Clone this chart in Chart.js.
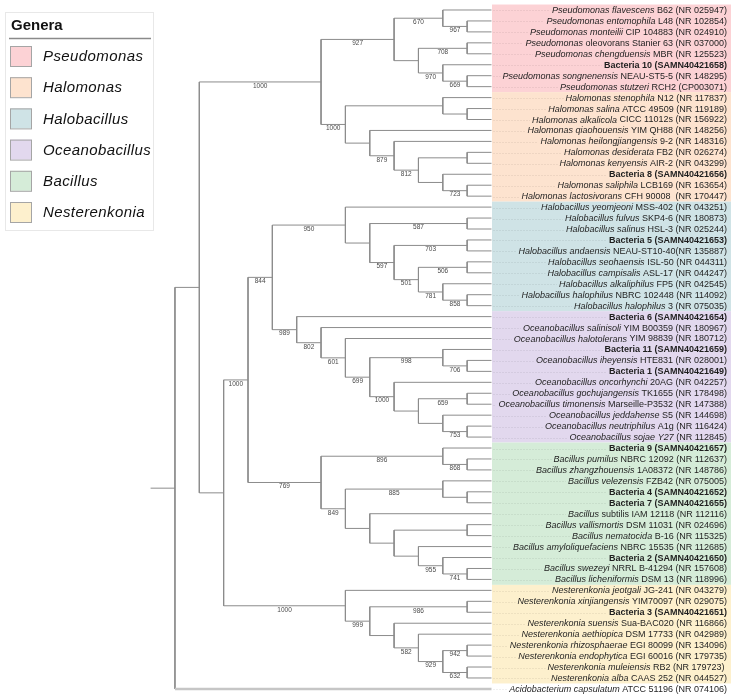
<!DOCTYPE html>
<html>
<head>
<meta charset="utf-8">
<title>Phylogenetic tree</title>
<script src="https://cdn.jsdelivr.net/npm/chart.js@4"></script>
<style>
  html, body { margin: 0; padding: 0; background: #fff; }
  #wrap { width: 733px; height: 699px; }
</style>
</head>
<body>
<div id="wrap"><canvas id="tree" width="733" height="699"></canvas></div>
<script>
// Tree topology per clade: numbers inside are leaf rows, number after ")" is bootstrap support
const pseudomonasClade = "((0,(1,2)967)670,((3,4)708,(5,(6,7)669)970))927";
const halomonasClade = "((8,(9,10)),(11,(12,((13,14),(15,(16,17)723))812)879))1000";
const halobacillusClade = "(18,((19,20)587,((21,22)703,((23,24)506,(25,(26,27)858)781)501)597))950";
const oceanobacillusClade = "(28,(29,(30,((31,(32,33)706)998,(34,((35,36)659,(37,(38,39)753)))1000)699)601)802)989";
const bacillusClade = "((40,(41,42)868)896,((43,(44,45))885,(46,((47,48),(49,(50,(51,52)741)955))))849)769";
const nesterenkoniaClade = "(53,((54,55)986,(56,(57,((58,59)942,(60,61)632)929)582))999)1000";

const newick =
  "(((" + pseudomonasClade + "," + halomonasClade + ")1000," +
  "(((" + halobacillusClade + "," + oceanobacillusClade + ")844," + bacillusClade + ")1000," +
  nesterenkoniaClade + ")),62)";

// Leaf labels (italic part, then plain part); empty italic part = own isolate, in bold
const leafItalic = [
  "Pseudomonas flavescens", "Pseudomonas entomophila", "Pseudomonas monteilii", "Pseudomonas",
  "Pseudomonas chengduensis", "", "Pseudomonas songnenensis", "Pseudomonas stutzeri",
  "Halomonas stenophila", "Halomonas salina", "Halomonas alkalicola", "Halomonas qiaohouensis",
  "Halomonas heilongjiangensis", "Halomonas desiderata", "Halomonas kenyensis", "",
  "Halomonas saliphila", "Halomonas lactosivorans",
  "Halobacillus yeomjeoni", "Halobacillus fulvus", "Halobacillus salinus", "",
  "Halobacillus andaensis", "Halobacillus seohaensis", "Halobacillus campisalis",
  "Halobacillus alkaliphilus", "Halobacillus halophilus", "Halobacillus halophilus",
  "", "Oceanobacillus salinisoli", "Oceanobacillus halotolerans", "", "Oceanobacillus iheyensis", "",
  "Oceanobacillus oncorhynchi", "Oceanobacillus gochujangensis", "Oceanobacillus timonensis",
  "Oceanobacillus jeddahense", "Oceanobacillus neutriphilus", "Oceanobacillus sojae Y27",
  "", "Bacillus pumilus", "Bacillus zhangzhouensis", "Bacillus velezensis", "", "",
  "Bacillus", "Bacillus vallismortis", "Bacillus nematocida", "Bacillus amyloliquefaciens", "",
  "Bacillus swezeyi", "Bacillus licheniformis",
  "Nesterenkonia jeotgali", "Nesterenkonia xinjiangensis", "", "Nesterenkonia suensis",
  "Nesterenkonia aethiopica", "Nesterenkonia rhizosphaerae", "Nesterenkonia endophytica",
  "Nesterenkonia muleiensis", "Nesterenkonia alba",
  "Acidobacterium capsulatum"
];
const leafRest = [
  " B62 (NR 025947)", " L48 (NR 102854)", " CIP 104883 (NR 024910)", " oleovorans Stanier 63 (NR 037000)",
  " MBR (NR 125523)", "Bacteria 10 (SAMN40421658)", " NEAU-ST5-5 (NR 148295)", " RCH2 (CP003071)",
  " N12 (NR 117837)", " ATCC 49509 (NR 119189)", " CICC 11012s (NR 156922)", " YIM QH88 (NR 148256)",
  " 9-2 (NR 148316)", " FB2 (NR 026274)", " AIR-2 (NR 043299)", "Bacteria 8 (SAMN40421656)",
  " LCB169 (NR 163654)", " CFH 90008  (NR 170447)",
  " MSS-402 (NR 043251)", " SKP4-6 (NR 180873)", " HSL-3 (NR 025244)", "Bacteria 5 (SAMN40421653)",
  " NEAU-ST10-40(NR 135887)", " ISL-50 (NR 044311)", " ASL-17 (NR 044247)",
  " FP5 (NR 042545)", " NBRC 102448 (NR 114092)", " 3 (NR 075035)",
  "Bacteria 6 (SAMN40421654)", " YIM B00359 (NR 180967)", " YIM 98839 (NR 180712)", "Bacteria 11 (SAMN40421659)",
  " HTE831 (NR 028001)", "Bacteria 1 (SAMN40421649)",
  " 20AG (NR 042257)", " TK1655 (NR 178498)", " Marseille-P3532 (NR 147388)",
  " S5 (NR 144698)", " A1g (NR 116424)", " (NR 112845)",
  "Bacteria 9 (SAMN40421657)", " NBRC 12092 (NR 112637)", " 1A08372 (NR 148786)", " FZB42 (NR 075005)",
  "Bacteria 4 (SAMN40421652)", "Bacteria 7 (SAMN40421655)",
  " subtilis IAM 12118 (NR 112116)", " DSM 11031 (NR 024696)", " B-16 (NR 115325)", " NBRC 15535 (NR 112685)",
  "Bacteria 2 (SAMN40421650)", " NRRL B-41294 (NR 157608)", " DSM 13 (NR 118996)",
  " JG-241 (NR 043279)", " YIM70097 (NR 029075)", "Bacteria 3 (SAMN40421651)", " Sua-BAC020 (NR 116866)",
  " DSM 17733 (NR 042989)", " EGI 80099 (NR 134096)", " EGI 60016 (NR 179735)",
  " RB2 (NR 179723) ", " CAAS 252 (NR 044527)",
  " ATCC 51196 (NR 074106)"
];

// Genera: name, first and last leaf row, colour
const genera = ["Pseudomonas", "Halomonas", "Halobacillus", "Oceanobacillus", "Bacillus", "Nesterenkonia"];
const generaRows = [[0, 7], [8, 17], [18, 27], [28, 39], [40, 52], [53, 61]];
const generaColors = ["#fcd2d5", "#fde3cf", "#cfe3e6", "#e2d8ee", "#d5ecd8", "#fdf0cd"];

// Parse the newick string
function parseNewick(s) {
  let i = 0;
  function readNum() {
    let n = '';
    while (i < s.length && /\d/.test(s[i])) n += s[i++];
    return n;
  }
  function node() {
    if (s[i] === '(') {
      i++;
      const kids = [node()];
      while (s[i] === ',') { i++; kids.push(node()); }
      i++; // closing paren
      const n = readNum();
      return { kids, support: n ? +n : null };
    }
    return { leaf: +readNum() };
  }
  return node();
}

const root = parseNewick(newick);

// Cladogram layout: leaves aligned, node level from its height
function height(n) {
  n.h = n.kids ? 1 + Math.max(...n.kids.map(height)) : 0;
  return n.h;
}
const maxH = height(root);
const tipLevel = maxH + 1;

function place(n) {
  n.lvl = tipLevel - n.h;
  if (n.kids) {
    n.kids.forEach(place);
    n.y = (n.kids[0].y + n.kids[n.kids.length - 1].y) / 2;
  } else {
    n.y = n.leaf;
  }
}
place(root);

const treeLines = [];
const outgroupLines = [];
const supports = [];
const gap = (arr) => arr.push({ x: 0, y: null });

treeLines.push({ x: 0, y: root.y }, { x: root.lvl, y: root.y });
gap(treeLines);

function walk(n) {
  if (!n.kids) return;
  const first = n.kids[0], last = n.kids[n.kids.length - 1];
  treeLines.push({ x: n.lvl, y: first.y }, { x: n.lvl, y: last.y });
  gap(treeLines);
  n.kids.forEach(k => {
    const target = (n === root && !k.kids) ? outgroupLines : treeLines;
    target.push({ x: n.lvl, y: k.y }, { x: k.lvl, y: k.y });
    gap(target);
    if (k.support) supports.push({ x: (n.lvl + k.lvl) / 2, y: k.y, v: k.support });
    walk(k);
  });
}
walk(root);

const FONT = "'Liberation Sans', Arial, sans-serif";

const treePlugin = {
  id: 'treePlugin',
  beforeDatasetsDraw(chart) {
    const { ctx, chartArea } = chart;
    const xs = chart.scales.x, ys = chart.scales.y;
    const left = xs.getPixelForValue(tipLevel) + 0.5;
    ctx.save();
    generaRows.forEach((r, i) => {
      const top = ys.getPixelForValue(r[0] - 0.5);
      const bottom = ys.getPixelForValue(r[1] + 0.5);
      ctx.fillStyle = generaColors[i];
      ctx.fillRect(left, top, chartArea.right - 2 - left, bottom - top);
    });
    ctx.restore();
  },
  afterDatasetsDraw(chart) {
    const { ctx, chartArea } = chart;
    const xs = chart.scales.x, ys = chart.scales.y;
    const tipX = xs.getPixelForValue(tipLevel);
    const rightX = chartArea.right - 6;
    ctx.save();

    // leaf labels
    ctx.textBaseline = 'middle';
    ctx.textAlign = 'left';
    leafRest.forEach((rest, i) => {
      const py = ys.getPixelForValue(i) + 0.5;
      const it = leafItalic[i];
      let start;
      ctx.fillStyle = '#1e1e1e';
      if (!it) {
        ctx.font = 'bold 9px ' + FONT;
        const w = ctx.measureText(rest).width;
        start = rightX - w;
        ctx.fillText(rest, start, py);
      } else {
        ctx.font = 'italic 9px ' + FONT;
        const wi = ctx.measureText(it).width;
        ctx.font = '9px ' + FONT;
        const wr = ctx.measureText(rest).width;
        start = rightX - wi - wr;
        ctx.font = 'italic 9px ' + FONT;
        ctx.fillText(it, start, py);
        ctx.font = '9px ' + FONT;
        ctx.fillText(rest, start + wi, py);
      }
      // faint dotted leader
      ctx.strokeStyle = 'rgba(0,0,0,0.12)';
      ctx.lineWidth = 1;
      ctx.setLineDash([1, 2]);
      ctx.beginPath();
      ctx.moveTo(tipX + 2, Math.round(py) + 0.5);
      ctx.lineTo(start - 2, Math.round(py) + 0.5);
      ctx.stroke();
      ctx.setLineDash([]);
    });

    // bootstrap values
    ctx.font = '6.5px ' + FONT;
    ctx.fillStyle = '#4a4a4a';
    ctx.textAlign = 'center';
    supports.forEach(s => {
      ctx.fillText(String(s.v), xs.getPixelForValue(s.x), ys.getPixelForValue(s.y) + 4);
    });

    // legend box
    ctx.fillStyle = '#fff';
    ctx.fillRect(5, 12, 148, 218);
    ctx.strokeStyle = '#e8e8e8';
    ctx.lineWidth = 1;
    ctx.strokeRect(5.5, 12.5, 148, 218);
    ctx.textAlign = 'left';
    ctx.fillStyle = '#111';
    ctx.font = 'bold 15px ' + FONT;
    ctx.fillText('Genera', 11, 26);
    ctx.strokeStyle = '#8a8a8a';
    ctx.lineWidth = 1.5;
    ctx.beginPath();
    ctx.moveTo(9, 38.5);
    ctx.lineTo(151, 38.5);
    ctx.stroke();
    ctx.font = 'italic 15px ' + FONT;
    ctx.letterSpacing = '0.4px';
    genera.forEach((g, i) => {
      const cy = 56 + i * 31.2;
      ctx.fillStyle = generaColors[i];
      ctx.fillRect(10, cy - 10, 22, 20);
      ctx.strokeStyle = '#a5a5a5';
      ctx.lineWidth = 1;
      ctx.strokeRect(10.5, cy - 9.5, 21, 20);
      ctx.fillStyle = '#111';
      ctx.fillText(g, 43, cy + 1);
    });
    ctx.restore();
  }
};

new Chart(document.getElementById('tree'), {
  type: 'scatter',
  data: {
    datasets: [
      {
        data: outgroupLines,
        showLine: true,
        borderColor: '#c6c6c6',
        borderWidth: 2.5,
        pointRadius: 0,
        spanGaps: false
      },
      {
        data: treeLines,
        showLine: true,
        borderColor: '#8c8c8c',
        borderWidth: 1,
        pointRadius: 0,
        spanGaps: false
      }
    ]
  },
  options: {
    responsive: false,
    animation: false,
    events: [],
    layout: { padding: 0 },
    plugins: { legend: { display: false }, tooltip: { enabled: false } },
    scales: {
      x: { type: 'linear', display: false, min: -6.185, max: 23.918 },
      y: { type: 'linear', display: false, min: -0.913, max: 62.92, reverse: true }
    }
  },
  plugins: [treePlugin]
});
</script>
</body>
</html>
